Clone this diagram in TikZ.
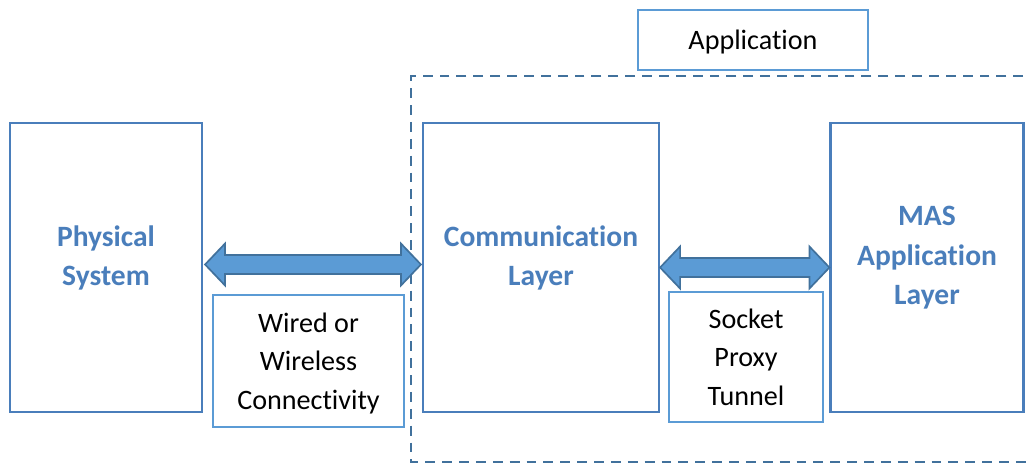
\documentclass[tikz,border=0pt]{standalone}
\usepackage{fontspec}
\setmainfont[Ligatures=NoCommon]{Carlito}
\usetikzlibrary{positioning,calc}

\definecolor{boxblue}{HTML}{4A7EBB}
\definecolor{lightblue}{HTML}{5B9BD5}
\definecolor{darkblue}{HTML}{41719C}

\tikzset{
  layerbox/.style={draw=boxblue, line width=1.5pt, minimum height=7.225cm,
    align=center, text=boxblue, text depth=0.6cm,
    font=\fontsize{21}{28}\selectfont\bfseries},
  notebox/.style={draw=lightblue, line width=1.5pt, align=center, text depth=0pt,
    font=\fontsize{20}{27.5}\selectfont},
  blockarrow/.style={fill=lightblue, draw=darkblue, line width=1.2pt, line join=miter}
}

% block arrow with a head at both ends
\newcommand{\dblarrow}[2]{%
  \filldraw[blockarrow] (#1) -- ($(#1)+(20,-21)$) -- ($(#1)+(20,-9.5)$)
    -- ($(#2)+(-20,-9.5)$) -- ($(#2)+(-20,-21)$) -- (#2)
    -- ($(#2)+(-20,21)$) -- ($(#2)+(-20,9.5)$)
    -- ($(#1)+(20,9.5)$) -- ($(#1)+(20,21)$) -- cycle;}

\begin{document}
\begin{tikzpicture}[x=0.025cm, y=-0.025cm]
\useasboundingbox (0,0) rectangle (1030,463);

% Application frame
\node[notebox, minimum width=5.75cm, minimum height=1.5cm] (app) at (753,40) {Application};
\draw[darkblue, line width=1.5pt, dash pattern=on 7pt off 5pt] (1040,76) -| (411,462) -- (1040,462);

% Layers
\node[layerbox, minimum width=4.8cm] (phys) at (106,267.5) {Physical\\System};
\node[layerbox, minimum width=5.9cm] (comm) at (541,267.5) {Communication\\Layer};
\node[layerbox, minimum width=4.825cm] (mas) at (927,267.5) {MAS\\Application\\Layer};

% Links
\coordinate (l1) at ($(phys.east)+(2,-3)$);
\coordinate (r1) at ($(comm.west)+(-1,-3)$);
\dblarrow{l1}{r1}
\dblarrow{comm.east}{mas.west}

\node[notebox, minimum width=4.775cm, minimum height=3.3cm] (wired) at (308.5,361) {Wired or\\Wireless\\Connectivity};
\node[notebox, minimum width=3.85cm, minimum height=3.25cm] (socket) at (746,357) {Socket\\Proxy\\Tunnel};
\end{tikzpicture}
\end{document}
